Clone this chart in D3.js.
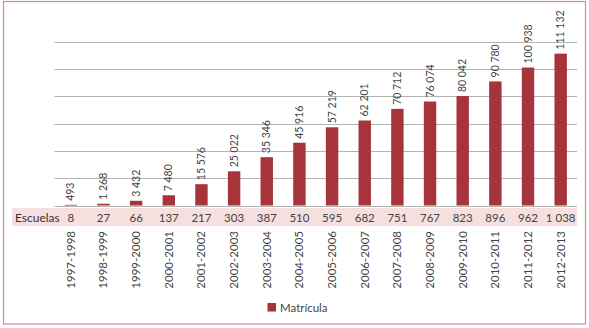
<!DOCTYPE html>
<html><head><meta charset="utf-8">
<script src="https://cdn.jsdelivr.net/npm/d3@7"></script>
<style>body{margin:0;background:#fff}svg{display:block}text{font-family:Lato,"Open Sans",sans-serif}</style>
</head><body>
<script>
const years = ["1997-1998","1998-1999","1999-2000","2000-2001","2001-2002","2002-2003","2003-2004","2004-2005","2005-2006","2006-2007","2007-2008","2008-2009","2009-2010","2010-2011","2011-2012","2012-2013"];
const matricula = [493,1268,3432,7480,15576,25022,35346,45916,57219,62201,70712,76074,80042,90780,100938,111132];
const escuelas = [8,27,66,137,217,303,387,510,595,682,751,767,823,896,962,1038];
const gridTicks = [0,20000,40000,60000,80000,100000,120000];
const matriculaLabel = "Matrícula";
const escuelasLabel = "Escuelas";

const W=589,H=328;
const svg=d3.select("body").append("svg").attr("width",W).attr("height",H);
const fmt = v => d3.format(",")(v).replace(/,/g," ");

svg.append("rect").attr("x",3.5).attr("y",1.5).attr("width",582).attr("height",322.5)
  .attr("fill","none").attr("stroke","#d98a90").attr("stroke-width",1.2);

const x=d3.scaleBand().domain(years).range([54.5,577]).paddingInner(0.62).paddingOuter(0.31);
const y=d3.scaleLinear().domain([0,120000]).range([205.5,41.5]);

svg.append("g").selectAll("line").data(gridTicks).join("line")
  .attr("x1",54.5).attr("x2",577).attr("y1",d=>Math.round(y(d))+0.5).attr("y2",d=>Math.round(y(d))+0.5)
  .attr("stroke","#b3b3b3").attr("stroke-width",1);

svg.append("g").selectAll("rect").data(matricula).join("rect")
  .attr("x",(d,i)=>x(years[i])).attr("width",x.bandwidth())
  .attr("y",d=>y(d)).attr("height",d=>y(0)-y(d)).attr("fill","#a7333b");

svg.append("g").selectAll("text").data(matricula).join("text")
  .attr("transform",(d,i)=>`translate(${x(years[i])+x.bandwidth()/2+3.5},${y(d)-4}) rotate(-90)`)
  .attr("font-size",10.5).attr("fill","#444").text(d=>fmt(d));

// Escuelas row
svg.append("rect").attr("x",12).attr("y",208).attr("width",565).attr("height",18).attr("fill","#f5dfdf");
svg.append("text").attr("x",15).attr("y",221.5).attr("font-size",12).attr("fill","#333").text(escuelasLabel);
svg.append("g").selectAll("text").data(escuelas).join("text")
  .attr("x",(d,i)=>x(years[i])+x.bandwidth()/2).attr("y",221.5).attr("text-anchor","middle")
  .attr("font-size",11.5).attr("fill","#444").text(d=>fmt(d));

// year labels
svg.append("g").selectAll("text").data(years).join("text")
  .attr("transform",d=>`translate(${x(d)+x.bandwidth()/2+4},231) rotate(-90)`)
  .attr("text-anchor","end").attr("font-size",11.5).attr("fill","#444").text(d=>d);

// legend
svg.append("rect").attr("x",267.5).attr("y",303).attr("width",8.5).attr("height",8.5).attr("fill","#a7333b");
svg.append("text").attr("x",280).attr("y",311.5).attr("font-size",11.5).attr("fill","#444").text(matriculaLabel);
</script>
</body></html>
